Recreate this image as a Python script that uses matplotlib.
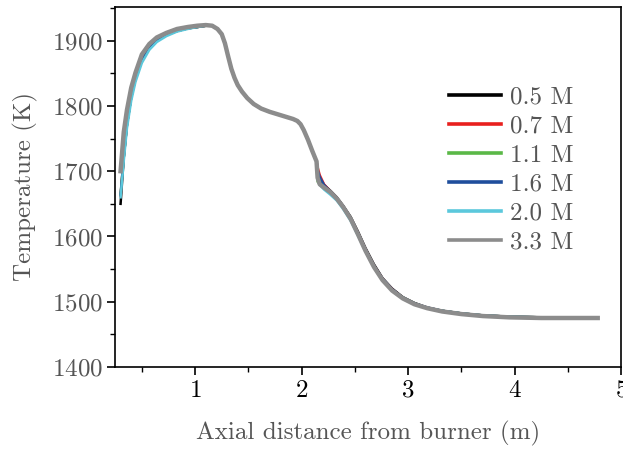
import matplotlib
matplotlib.use("Agg")
import matplotlib.pyplot as plt
from matplotlib.ticker import MultipleLocator

plt.rcParams['font.family'] = 'serif'
plt.rcParams['font.serif'] = ['cmr10']
plt.rcParams['mathtext.fontset'] = 'cm'
plt.rcParams['axes.unicode_minus'] = False
plt.rcParams['axes.formatter.use_mathtext'] = True

# axial distance (m)
x = [0.30, 0.33, 0.36, 0.40, 0.44, 0.50, 0.57, 0.64, 0.73, 0.83, 0.93, 1.02, 1.10,
     1.16, 1.21, 1.25, 1.28, 1.31, 1.34, 1.37, 1.40, 1.44, 1.49, 1.55, 1.62, 1.70,
     1.78, 1.86, 1.92, 1.96, 1.99, 2.02, 2.06, 2.10, 2.14,
     2.15, 2.17, 2.21, 2.27, 2.33, 2.39, 2.46, 2.53, 2.60, 2.68, 2.76, 2.85, 2.95,
     3.06, 3.18, 3.32, 3.50, 3.70, 3.95, 4.25, 4.50, 4.78]

# temperature (K) for each mesh
t_05 = [1650, 1722, 1772, 1814, 1842, 1870, 1889, 1900, 1909, 1915, 1919, 1921, 1923,
        1923, 1918, 1910, 1896, 1876, 1857, 1843, 1832, 1822, 1812, 1803, 1796, 1791,
        1787, 1783, 1780, 1777, 1772, 1763, 1748, 1731, 1715,
        1700, 1690, 1679, 1670, 1660, 1647, 1630, 1607, 1582, 1557, 1536, 1520, 1507,
        1498, 1491, 1486, 1482, 1479, 1477, 1476, 1476, 1476]
t_07 = [1662, 1722, 1772, 1814, 1842, 1870, 1889, 1900, 1909, 1915, 1919, 1921, 1923,
        1923, 1918, 1910, 1896, 1876, 1857, 1843, 1832, 1822, 1812, 1803, 1796, 1791,
        1787, 1783, 1780, 1777, 1772, 1763, 1748, 1731, 1715,
        1706, 1694, 1680, 1669, 1659, 1646, 1628, 1605, 1580, 1555, 1535, 1519, 1506,
        1497, 1491, 1486, 1482, 1479, 1477, 1476, 1476, 1476]
t_11 = [1664, 1722, 1772, 1814, 1842, 1870, 1889, 1900, 1909, 1915, 1919, 1921, 1923,
        1923, 1918, 1910, 1896, 1876, 1857, 1843, 1832, 1822, 1812, 1803, 1796, 1791,
        1787, 1783, 1780, 1777, 1772, 1763, 1748, 1731, 1715,
        1684, 1680, 1674, 1667, 1658, 1645, 1627, 1604, 1579, 1554, 1534, 1518, 1506,
        1497, 1490, 1486, 1482, 1479, 1477, 1476, 1476, 1476]
t_16 = [1664, 1722, 1772, 1814, 1842, 1870, 1889, 1900, 1909, 1915, 1919, 1921, 1923,
        1923, 1918, 1910, 1896, 1876, 1857, 1843, 1832, 1822, 1812, 1803, 1796, 1791,
        1787, 1783, 1780, 1777, 1772, 1763, 1748, 1731, 1715,
        1702, 1691, 1679, 1669, 1659, 1646, 1628, 1605, 1580, 1555, 1535, 1519, 1506,
        1497, 1491, 1486, 1482, 1479, 1477, 1476, 1476, 1476]
t_20 = [1660, 1716, 1766, 1808, 1837, 1866, 1886, 1898, 1907, 1914, 1918, 1921, 1923,
        1923, 1918, 1910, 1896, 1876, 1857, 1843, 1832, 1822, 1812, 1803, 1796, 1791,
        1787, 1783, 1780, 1777, 1772, 1763, 1748, 1731, 1715,
        1688, 1679, 1672, 1664, 1655, 1642, 1624, 1601, 1577, 1553, 1534, 1518, 1506,
        1497, 1491, 1486, 1482, 1479, 1477, 1476, 1476, 1476]
t_33 = [1700, 1760, 1794, 1828, 1851, 1879, 1895, 1905, 1912, 1918, 1921, 1923, 1924,
        1923, 1918, 1910, 1896, 1876, 1857, 1843, 1832, 1822, 1812, 1803, 1796, 1791,
        1787, 1783, 1780, 1777, 1772, 1763, 1748, 1731, 1715,
        1690, 1680, 1675, 1668, 1658, 1645, 1627, 1603, 1578, 1553, 1533, 1517, 1505,
        1496, 1490, 1485, 1481, 1478, 1476, 1475, 1475, 1475]

labels = ['0.5 M', '0.7 M', '1.1 M', '1.6 M', '2.0 M', '3.3 M']
colors = ['#000000', '#e8201e', '#5ab847', '#1f4e9c', '#5bc8dc', '#8c8c8c']
widths = [1.8, 1.8, 1.8, 1.8, 1.8, 3.2]

fig = plt.figure(figsize=(6.23, 4.53), dpi=100)
ax = fig.add_axes([0.185, 0.19, 0.812, 0.795])

series = [t_05, t_07, t_11, t_16, t_20, t_33]
for t, lab, c, w in zip(series, labels, colors, widths):
    ax.plot(x, t, color=c, lw=w, label=lab, solid_joinstyle='round')

ax.set_xlim(0.25, 5)
ax.set_ylim(1400, 1952)
ax.xaxis.set_major_locator(MultipleLocator(1))
ax.xaxis.set_minor_locator(MultipleLocator(0.5))
ax.yaxis.set_major_locator(MultipleLocator(100))
ax.yaxis.set_minor_locator(MultipleLocator(50))
ax.tick_params(which='both', direction='out', top=False, right=False)
ax.tick_params(which='major', length=6, width=1.2, labelsize=18, pad=3)
ax.tick_params(which='minor', length=3.5, width=1.0)
ax.tick_params(axis='y', labelcolor='#555555')
ax.tick_params(axis='x', labelcolor='black')
for s in ax.spines.values():
    s.set_linewidth(1.2)

ax.set_xlabel('Axial distance from burner (m)', fontsize=18, color='#555555', labelpad=14)
ax.set_ylabel('Temperature (K)', fontsize=18, color='#555555', labelpad=10)

handles, _ = ax.get_legend_handles_labels()
leg = ax.legend(handles, labels, loc='center left', bbox_to_anchor=(0.66, 0.547),
                frameon=False, fontsize=18, handlelength=2.08, handletextpad=0.36,
                labelspacing=0.26, borderpad=0, borderaxespad=0, labelcolor='#555555')
for h in leg.get_lines():
    h.set_linewidth(2.6)

fig.savefig('out.png', dpi=100)
